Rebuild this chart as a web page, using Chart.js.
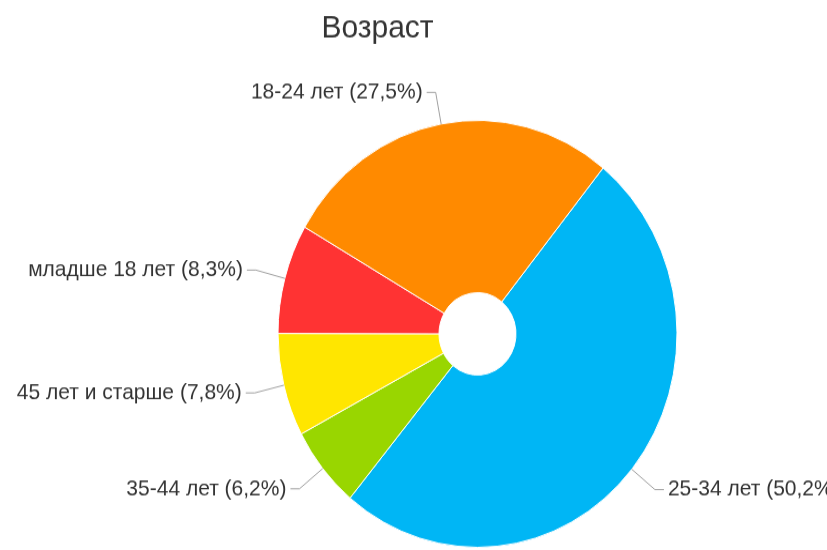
<!DOCTYPE html>
<html><head><meta charset="utf-8">
<script src="https://cdn.jsdelivr.net/npm/chart.js@4/dist/chart.umd.min.js"></script>
<style>
html,body{margin:0;padding:0;background:#fff;overflow:hidden;width:827px;height:550px}
#wrap{position:absolute;left:0;top:0;width:827px;height:514px;transform:scaleY(1.07);transform-origin:0 0}
</style></head><body>
<div id="wrap"><canvas id="c"></canvas></div>
<script>
const titleText = 'Возраст';
const categories = ['25-34 лет', '35-44 лет', '45 лет и старше', 'младше 18 лет', '18-24 лет'];
const shares = [50.2, 6.2, 7.8, 8.3, 27.5];
const colors = ['#00b6f5', '#99d600', '#ffe600', '#ff3333', '#ff8a00'];

const FONT = '"Liberation Sans", Arial, sans-serif';

const labelPlugin = {
  id: 'pieLabels',
  afterDraw(chart) {
    const ctx = chart.ctx;
    const meta = chart.getDatasetMeta(0);
    ctx.save();
    ctx.font = '21px ' + FONT;
    ctx.textBaseline = 'middle';
    meta.data.forEach((arc, i) => {
      const p = arc.getProps(['x', 'y', 'startAngle', 'endAngle', 'outerRadius'], true);
      const mid = (p.startAngle + p.endAngle) / 2;
      const c = Math.cos(mid), s = Math.sin(mid);
      const ax = p.x + c * p.outerRadius, ay = p.y + s * p.outerRadius;
      const R = p.outerRadius + 30;
      const bx = p.x + c * R, by = p.y + s * R;
      const left = c < 0;
      const dir = left ? -1 : 1;
      ctx.strokeStyle = '#a0a0a0';
      ctx.lineWidth = 1;
      ctx.beginPath();
      ctx.moveTo(bx + dir * 9, by);
      ctx.lineTo(bx, by);
      ctx.lineTo(ax, ay);
      ctx.stroke();
      ctx.fillStyle = '#333333';
      ctx.textAlign = left ? 'right' : 'left';
      const txt = categories[i] + ' (' + shares[i].toFixed(1).replace('.', ',') + '%)';
      ctx.fillText(txt, bx + dir * 13, by);
    });
    ctx.font = '30px ' + FONT;
    ctx.textAlign = 'center';
    ctx.textBaseline = 'alphabetic';
    ctx.fillStyle = '#333333';
    const ca = chart.chartArea;
    ctx.fillText(titleText, (ca.left + ca.right) / 2 - 100, 34.6);
    ctx.restore();
  }
};

new Chart(document.getElementById('c'), {
  type: 'doughnut',
  data: {
    labels: categories,
    datasets: [{
      data: shares,
      backgroundColor: colors,
      borderColor: '#ffffff',
      borderWidth: 1,
      hoverOffset: 0
    }]
  },
  options: {
    responsive: true,
    maintainAspectRatio: false,
    animation: false,
    rotation: 39,
    cutout: '19.3%',
    layout: { padding: { left: 277.5, right: 149.5, top: 112, bottom: 2 } },
    plugins: {
      legend: { display: false },
      tooltip: { enabled: false },
      title: { display: false }
    }
  },
  plugins: [labelPlugin]
});
</script>
</body></html>
